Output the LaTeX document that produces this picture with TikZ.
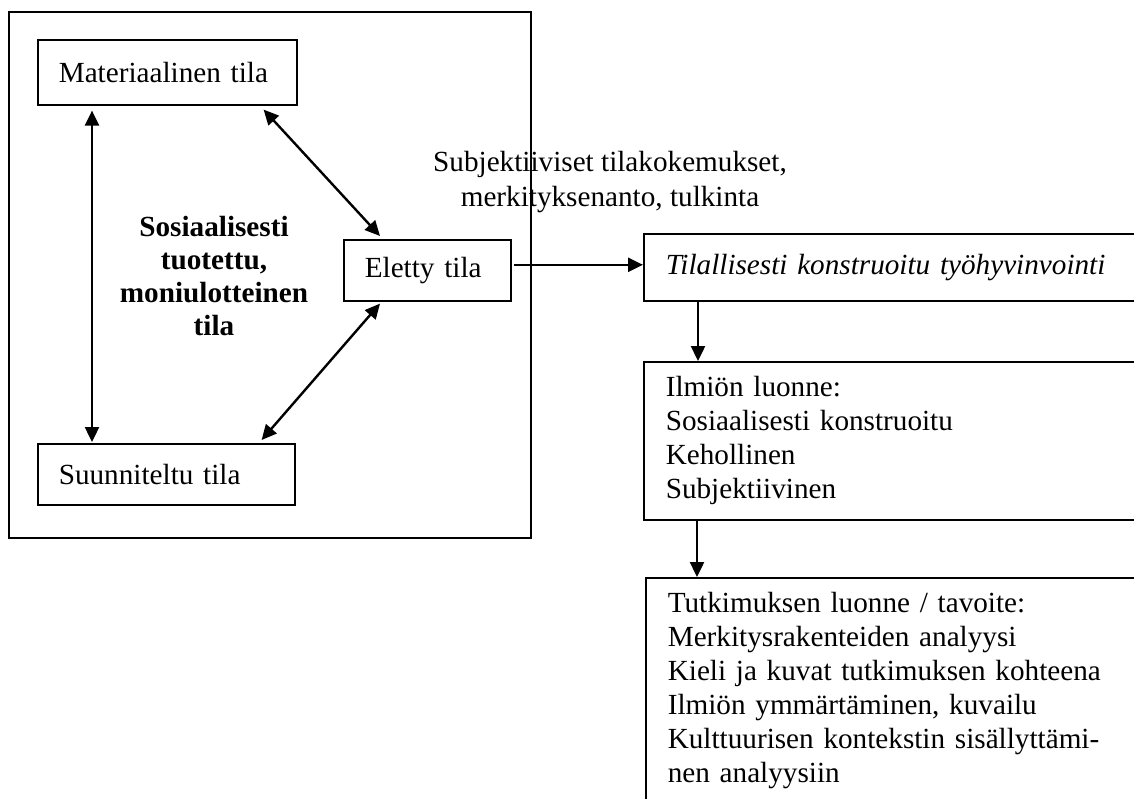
\documentclass[tikz,border=0pt]{standalone}
\usepackage{fontspec}
\setmainfont{Liberation Serif}
\usetikzlibrary{arrows.meta,positioning}

\begin{document}
\begin{tikzpicture}[x=0.5pt, y=-0.5pt,
	box/.style={draw, rectangle, line width=0.8pt, anchor=north west, inner xsep=10.5pt, inner ysep=0pt, align=left, font=\fontsize{14.6}{17}\selectfont},
	infobox/.style={box, inner xsep=11pt},
	link/.style={-{Triangle[length=7.5pt,width=7pt]}, line width=1.2pt},
	twolink/.style={{Triangle[length=7.5pt,width=7pt]}-{Triangle[length=7.5pt,width=7pt]}, line width=1.2pt}]
	\useasboundingbox (0,0) rectangle (1134,798);
	\clip (0,0) rectangle (1134,798);
	
	% left frame
	\draw[line width=0.8pt] (9,12) rectangle (531,538);
	\node[box, text width=108.5pt, minimum height=32.5pt] (mat) at (37,39) {Materiaalinen tila};
	\node[box, text width=107.5pt, minimum height=30.5pt] (suun) at (37,443) {Suunniteltu tila};
	\node[box, text width=62.5pt, minimum height=30.5pt] (elet) at (343,239) {Eletty tila};
	\node[align=center, font=\bfseries\fontsize{14.6}{16.5}\selectfont] (sos) at (214,276) {Sosiaalisesti\\tuotettu,\\moniulotteinen\\tila};
	
	\node[align=center, font=\fontsize{14.6}{17.5}\selectfont] (subj) at (610,182.5) {Subjektiiviset tilakokemukset,\\merkityksenanto, tulkinta};
	
	% right column
	\node[infobox, text width=236.5pt, minimum height=33.5pt] (til) at (643,233) {\itshape Tilallisesti konstruoitu työhyvinvointi};
	\node[infobox, text width=236.5pt, minimum height=79pt] (ilm) at (643,361) {Ilmiön luonne:\\Sosiaalisesti konstruoitu\\Kehollinen\\Subjektiivinen};
	\node[infobox, text width=235.5pt, minimum height=113pt] (tut) at (645,577) {Tutkimuksen luonne / tavoite:\\Merkitysrakenteiden analyysi\\Kieli ja kuvat tutkimuksen kohteena\\Ilmiön ymmärtäminen, kuvailu\\Kulttuurisen kontekstin sisällyttämi-\\nen analyysiin};
	
	\draw[twolink] ([xshift=27.5pt,yshift=-2.5pt]mat.south west) -- ([xshift=27.5pt,yshift=0.5pt]suun.north west);
	\draw[twolink] ([xshift=-17pt,yshift=-2pt]mat.south east) -- ([xshift=18.5pt,yshift=1.5pt]elet.north west);
	\draw[twolink] ([xshift=18.5pt,yshift=-1pt]elet.south west) -- ([xshift=-17pt,yshift=1.5pt]suun.north east);
	
	\draw[link] ([xshift=1pt,yshift=2.75pt]elet.east) -- ([yshift=2.75pt]elet.east -| til.west);
	\draw[link] ([xshift=27.5pt]til.south west) -- ([xshift=27.5pt]til.south west |- ilm.north);
	\draw[link] ([xshift=27pt]ilm.south west) -- ([xshift=27pt]ilm.south west |- tut.north);
\end{tikzpicture}
\end{document}
